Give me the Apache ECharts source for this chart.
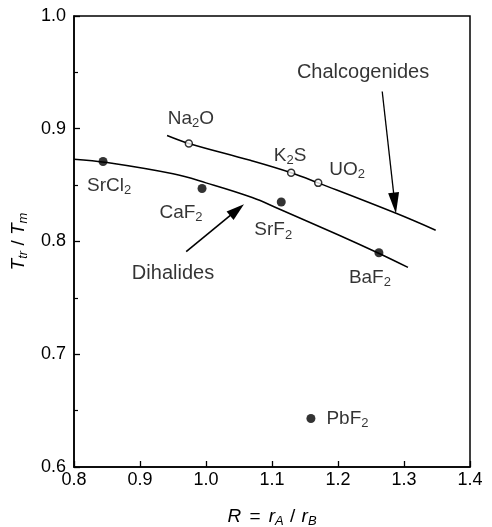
<!DOCTYPE html>
<html>
<head>
<meta charset="utf-8">
<script src="https://cdn.jsdelivr.net/npm/echarts@6/dist/echarts.min.js"></script>
<style>html,body{margin:0;padding:0;background:#fff}#c{width:492px;height:527px}</style>
</head>
<body>
<div id="c"></div>
<script>
// Data
const dihalideNames = ['SrCl{s|2}', 'CaF{s|2}', 'SrF{s|2}', 'BaF{s|2}', 'PbF{s|2}'];
const dihalideX = [0.844, 0.994, 1.114, 1.262, 1.159];
const dihalideY = [0.871, 0.847, 0.835, 0.790, 0.643];

const chalcoNames = ['Na{s|2}O', 'K{s|2}S', 'UO{s|2}'];
const chalcoX = [0.974, 1.129, 1.170];
const chalcoY = [0.887, 0.861, 0.852];

const dihalideCurveX = [0.80, 0.85, 0.95, 1.00, 1.07, 1.11, 1.20, 1.26, 1.306];
const dihalideCurveY = [0.873, 0.870, 0.860, 0.852, 0.839, 0.829, 0.806, 0.790, 0.777];

const chalcoCurveX = [0.941, 0.974, 1.067, 1.129, 1.170, 1.288, 1.348];
const chalcoCurveY = [0.894, 0.887, 0.872, 0.861, 0.852, 0.825, 0.810];

const xTicks = [0.8, 0.9, 1.0, 1.1, 1.2, 1.3, 1.4];
const yTicks = [0.6, 0.7, 0.8, 0.9, 1.0];

const groupLabels = ['Chalcogenides', 'Dihalides'];
const groupLabelX = [1.238, 0.950];
const groupLabelY = [0.950, 0.772];

// arrows: [tailX, tailY, headCentreX, headCentreY]
const arrowChalco = [1.267, 0.933, 1.286, 0.834];
const arrowDihal = [0.970, 0.791, 1.047, 0.828];

const zip = (a, b) => a.map((v, i) => [v, b[i]]);
const FONT = 'Liberation Sans, Arial, sans-serif';
const INK = '#000';
const richSub = {
  s: { fontSize: 13, fontFamily: FONT, color: INK, padding: [10, 0, 0, 0] }
};
const dLabelOffsets = [[6, 24], [-21, 24], [-8, 28], [-9, 25], null];
const cLabelOffsets = [[2, -25], [-1, -17], [29, -13]];

function pointData(names, xs, ys, offsets) {
  return names.map((n, i) => {
    const item = { name: n, value: [xs[i], ys[i]] };
    if (offsets[i]) {
      item.label = { position: 'inside', offset: offsets[i] };
    } else {
      item.label = { position: 'right', distance: 11 };
    }
    return item;
  });
}

function arrow(a, w, h) {
  return [[{ coord: [a[0], a[1]], symbol: 'none' }, { coord: [a[2], a[3]], symbol: 'triangle', symbolSize: [w, h] }]];
}

const italic = { fontSize: 19, fontStyle: 'italic', fontFamily: FONT, color: INK };
const italicSub = { fontSize: 13, fontStyle: 'italic', fontFamily: FONT, color: INK, padding: [10, 0, 0, 0] };

const chart = echarts.init(document.getElementById('c'), null, { renderer: 'canvas' });
chart.setOption({
  backgroundColor: '#fff',
  animation: false,
  textStyle: { fontFamily: FONT },
  grid: {
    left: 74, right: 22, top: 16, bottom: 60, containLabel: false, outerBoundsMode: 'none',
    show: true, borderColor: '#000', borderWidth: 1.5, backgroundColor: 'transparent'
  },
  xAxis: {
    type: 'value', min: 0.8, max: 1.4, interval: 0.1,
    name: '{i|R}{sp| = }{i|r}{si|A}{sl| / }{i|r}{si|B}',
    nameLocation: 'middle', nameGap: 38,
    nameTextStyle: {
      fontSize: 19, color: INK, fontFamily: FONT,
      rich: {
        i: italic, si: italicSub,
        sp: { fontSize: 19, fontFamily: FONT, color: INK, padding: [0, 3, 0, 3] },
        sl: { fontSize: 19, fontFamily: FONT, color: INK, padding: [0, 1, 0, 1] }
      }
    },
    axisLine: { show: true, lineStyle: { color: '#000', width: 1.5 } },
    axisTick: { show: true, inside: true, length: 6, lineStyle: { color: '#000', width: 1.3 } },
    splitLine: { show: false },
    axisLabel: { fontSize: 18, color: INK, margin: 4, fontFamily: FONT, formatter: v => v.toFixed(1) }
  },
  yAxis: {
    type: 'value', min: 0.6, max: 1.0, interval: 0.1,
    name: '{i|T}{si|tr}{sp| / }{i|T}{si|m}',
    nameLocation: 'middle', nameGap: 43, nameRotate: 90,
    nameTextStyle: {
      fontSize: 19, color: INK, fontFamily: FONT,
      rich: { i: italic, si: italicSub, sp: { fontSize: 19, fontFamily: FONT, color: INK } }
    },
    axisLine: { show: true, lineStyle: { color: '#000', width: 1.5 } },
    axisTick: { show: true, inside: true, length: 6, lineStyle: { color: '#000', width: 1.3 } },
    minorTick: { show: true, splitNumber: 2, length: 4, lineStyle: { color: '#000', width: 1.2 } },
    splitLine: { show: false },
    axisLabel: { fontSize: 18, color: INK, margin: 8, fontFamily: FONT, formatter: v => v.toFixed(1) }
  },
  series: [
    {
      type: 'line', data: zip(dihalideCurveX, dihalideCurveY), smooth: 0.4, showSymbol: false, silent: true,
      lineStyle: { color: '#000', width: 1.5 }, itemStyle: { color: '#000' }, z: 2,
      markLine: {
        silent: true, animation: false,
        lineStyle: { color: '#000', width: 1.6, type: 'solid' }, itemStyle: { color: '#000' }, label: { show: false },
        data: arrow(arrowDihal, 11, 18)
      }
    },
    {
      type: 'line', data: zip(chalcoCurveX, chalcoCurveY), smooth: 0.4, showSymbol: false, silent: true,
      lineStyle: { color: '#000', width: 1.5 }, itemStyle: { color: '#000' }, z: 2,
      markLine: {
        silent: true, animation: false,
        lineStyle: { color: '#000', width: 1.3, type: 'solid' }, itemStyle: { color: '#000' }, label: { show: false },
        data: arrow(arrowChalco, 11, 21)
      }
    },
    {
      type: 'scatter', data: pointData(dihalideNames, dihalideX, dihalideY, dLabelOffsets),
      symbol: 'circle', symbolSize: 9, itemStyle: { color: '#000' }, z: 5,
      label: { show: true, formatter: p => p.name, fontSize: 19, color: INK, fontFamily: FONT, rich: richSub }
    },
    {
      type: 'scatter', data: pointData(chalcoNames, chalcoX, chalcoY, cLabelOffsets),
      symbol: 'circle', symbolSize: 7, itemStyle: { color: '#fff', borderColor: '#000', borderWidth: 1.5 }, z: 5,
      label: { show: true, formatter: p => p.name, fontSize: 19, color: INK, fontFamily: FONT, rich: richSub }
    },
    {
      type: 'scatter', data: groupLabels.map((n, i) => ({ name: n, value: [groupLabelX[i], groupLabelY[i]] })),
      symbolSize: 0, silent: true, z: 6,
      label: { show: true, position: 'inside', formatter: p => p.name, fontSize: 20, color: INK, fontFamily: FONT }
    }
  ]
});
</script>
</body>
</html>
